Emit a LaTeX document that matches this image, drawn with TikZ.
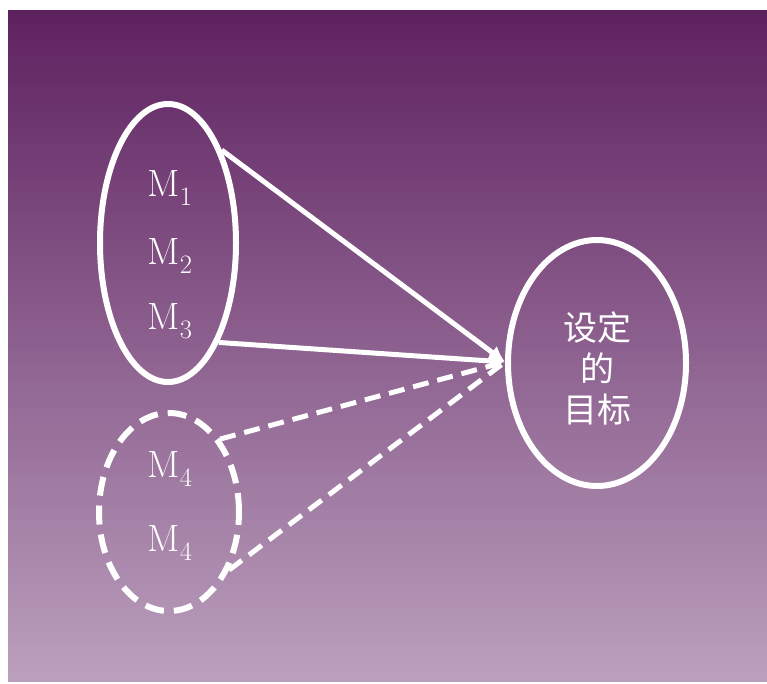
\documentclass[tikz,border=0pt]{standalone}
\usepackage{fontspec}
\newfontfamily\cjk{Noto Sans CJK SC}
\usetikzlibrary{shapes.geometric, arrows.meta}
\definecolor{bgtop}{RGB}{94,33,96}
\definecolor{bgbottom}{RGB}{187,160,189}
\tikzset{
	ring/.style = {ellipse, draw=white, line width=6pt, inner sep=0pt},
	mlabel/.style = {text=white, font=\fontsize{38}{40}\selectfont},
	gap/.style = {dash pattern=on 19pt off 10pt},
}
\begin{document}
\begin{tikzpicture}[x=1pt, y=-1pt]
		\useasboundingbox (0,0) rectangle (767,683);
		\shade [top color=bgtop, bottom color=bgbottom] (8,10) rectangle (767,681);
		\node [ring, minimum width=136, minimum height=278] (set) at (168,243) {};
		\node [ring, gap, minimum width=140, minimum height=198] (extra) at (169,512) {};
		\node [ring, minimum width=178, minimum height=246] (goal) at (597,363) {};
		\node [mlabel] (m1) at (170,188) {M\textsubscript{1}};
		\node [mlabel] (m2) at (170,256) {M\textsubscript{2}};
		\node [mlabel] (m3) at (170,321) {M\textsubscript{3}};
		\node [mlabel] (m4) at (170,469) {M\textsubscript{4}};
		\node [mlabel] (m5) at (170,543) {M\textsubscript{4}};
		\node [text=white, font=\cjk\fontsize{34}{41}\selectfont, align=center] (aim) at (597,368) {设定\\的\\目标};
		\coordinate (tip) at (505,362);
		\draw [white, line width=5pt, -{Latex[length=16pt,width=16pt]}] (set.60) -- (tip);
		\draw [white, line width=5pt, -{Latex[length=16pt,width=16pt]}] (set.-63) -- (tip);
		\draw [white, line width=5pt, dash pattern=on 16pt off 9pt] (extra.55) -- (tip);
		\draw [white, line width=5pt, dash pattern=on 16pt off 9pt] (extra.-44) -- (tip);
	\end{tikzpicture}
\end{document}
